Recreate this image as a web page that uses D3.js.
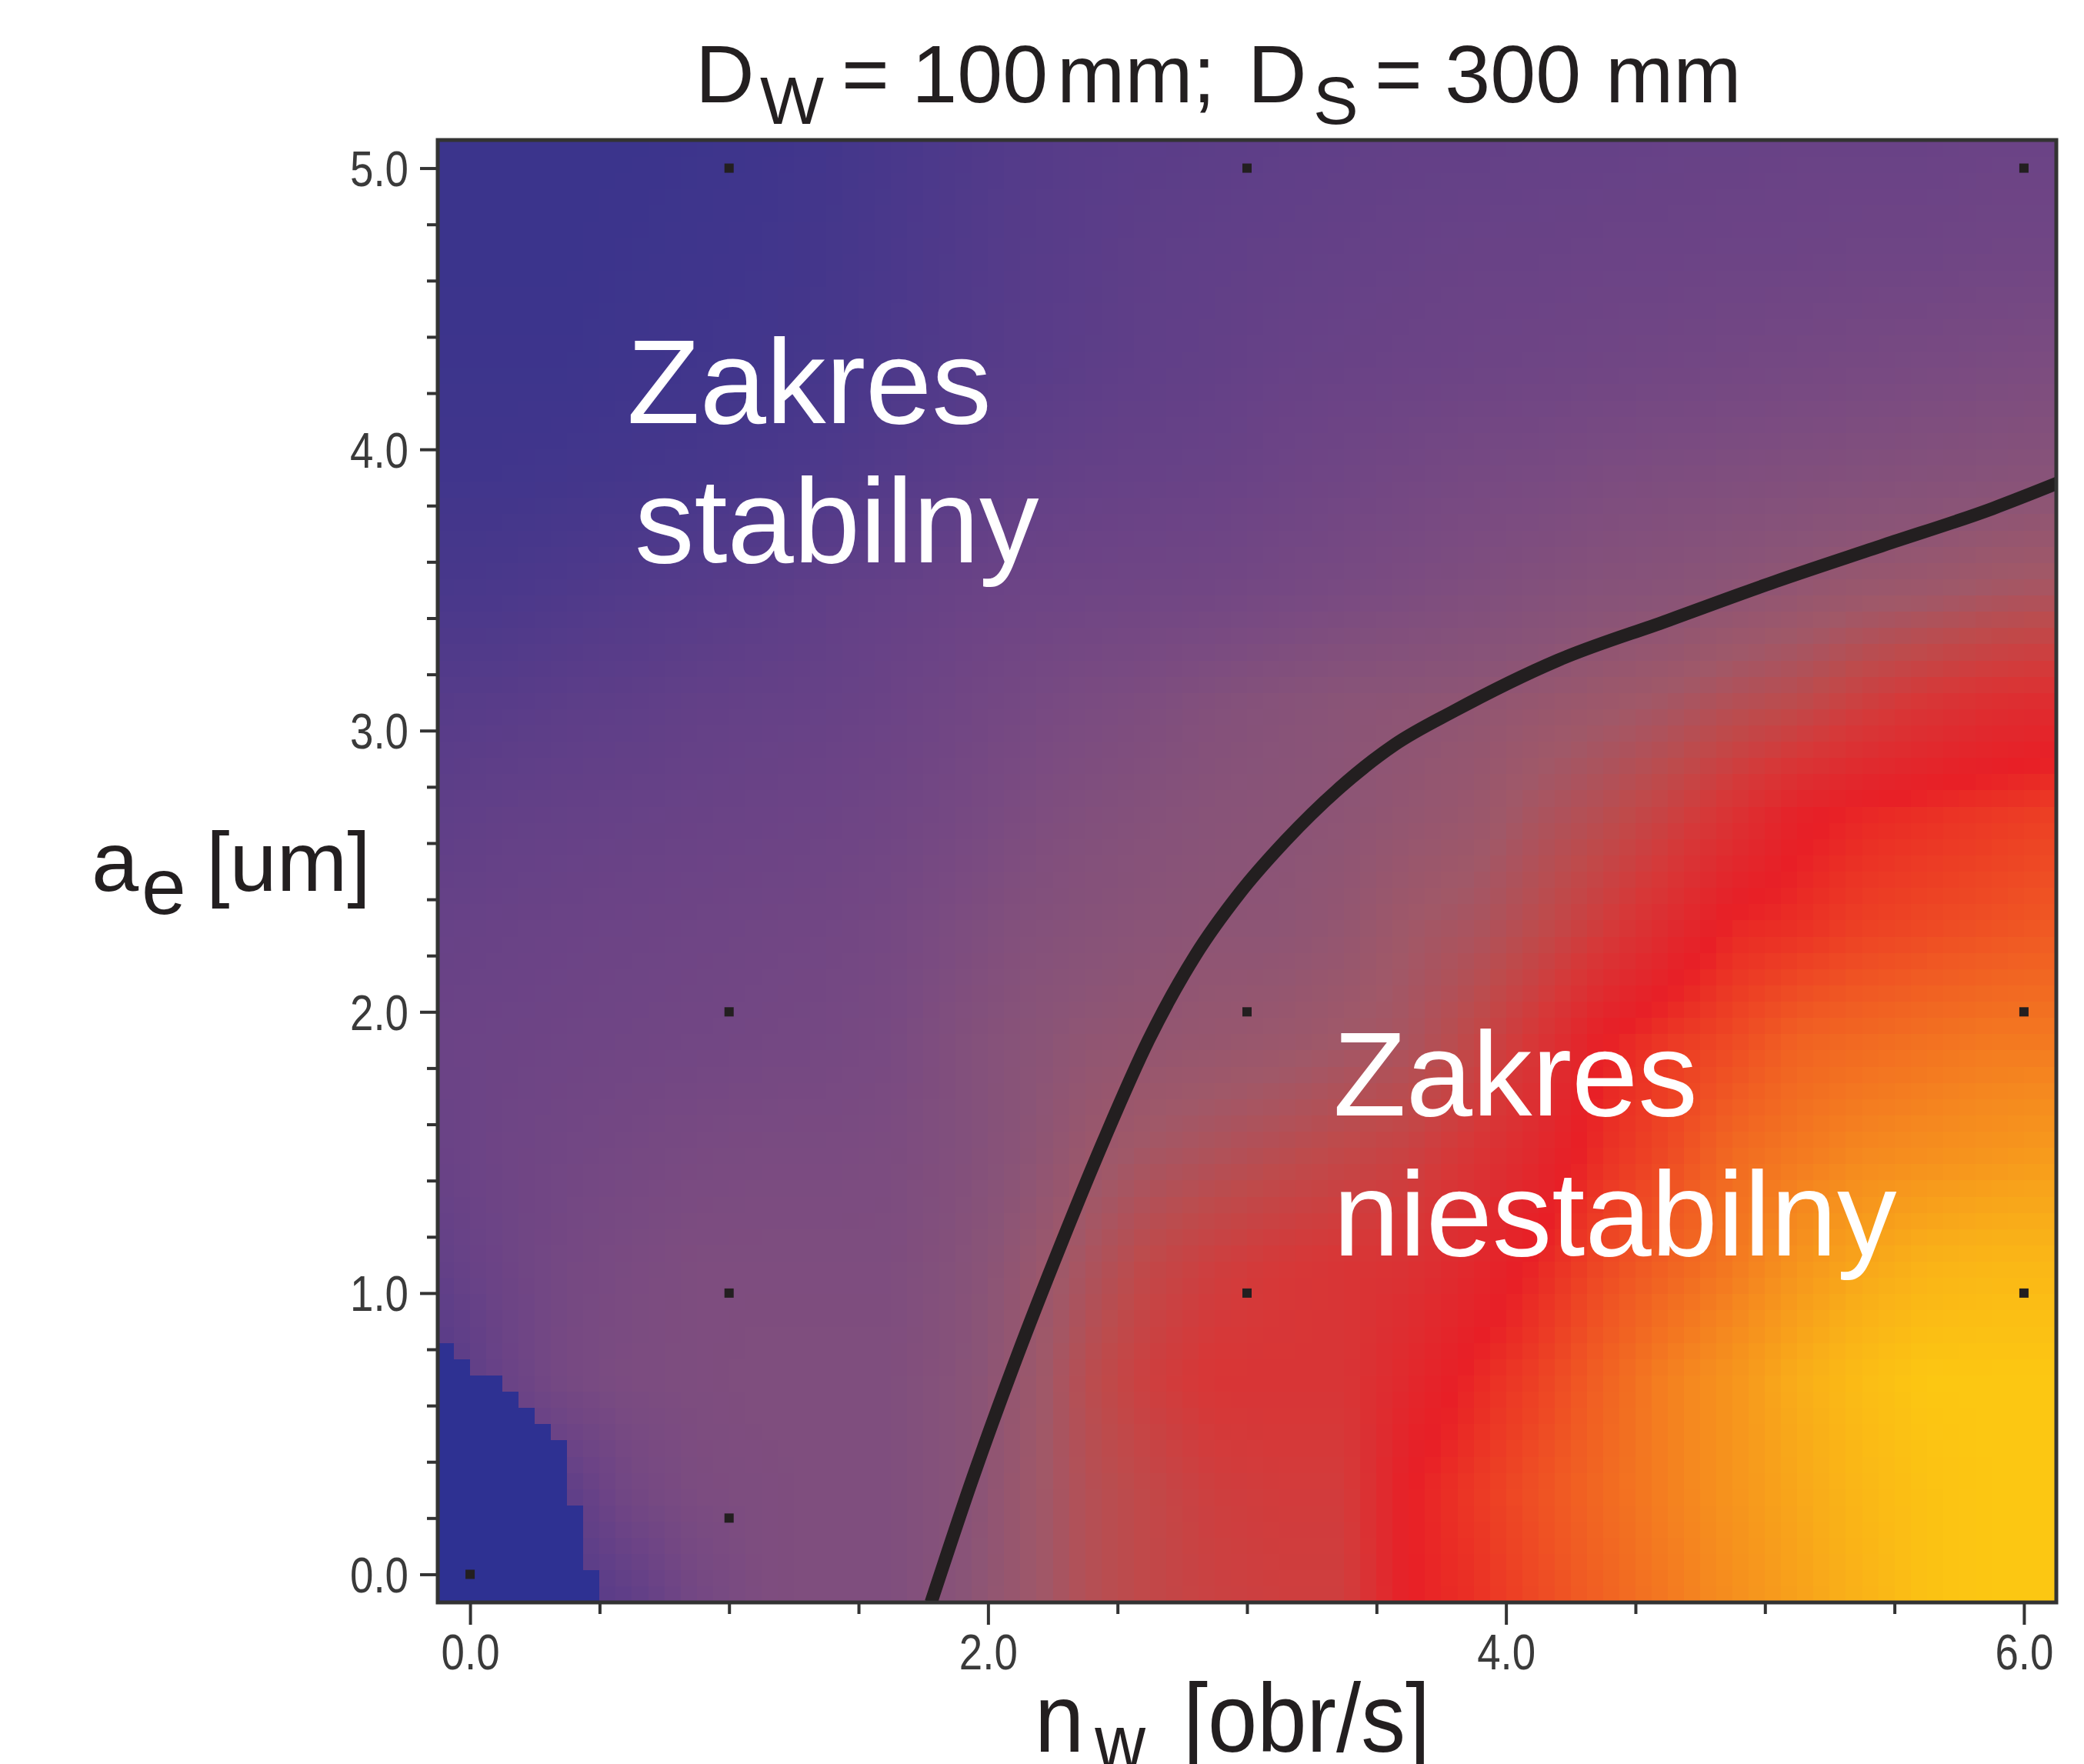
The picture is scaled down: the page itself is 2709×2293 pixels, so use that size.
<!DOCTYPE html>
<html>
<head>
<meta charset="utf-8">
<script src="https://cdnjs.cloudflare.com/ajax/libs/d3/7.8.5/d3.min.js"></script>
<style>
  body { margin: 0; background: #fff; }
  text { font-family: "Liberation Sans", Arial, sans-serif; }
</style>
</head>
<body>
<script>
// colour field, rows from top (a_e = 5.1) to bottom (a_e = -0.1)
var gridX = [-0.125, 0.125, 0.375, 0.625, 0.875, 1.125, 1.375, 1.625, 1.875, 2.125, 2.375, 2.625, 2.875,
             3.125, 3.375, 3.625, 3.875, 4.125, 4.375, 4.625, 4.875, 5.125, 5.375, 5.625, 5.875, 6.125];
var gridY = [5.1, 4.7, 4.3, 3.9, 3.5, 3.1, 2.7, 2.3, 1.9, 1.5, 1.1, 0.7, 0.3, -0.1];
var field = [
  [.07,.07,.07,.07,.08,.09,.11,.14,.17,.20,.22,.23,.24,.25,.26,.27,.27,.28,.28,.29,.29,.30,.30,.30,.31,.31],
  [.07,.07,.07,.08,.09,.10,.12,.15,.18,.21,.23,.25,.26,.27,.28,.29,.30,.30,.31,.31,.32,.32,.33,.33,.34,.34],
  [.08,.08,.08,.09,.10,.11,.13,.16,.19,.22,.24,.26,.27,.29,.30,.31,.32,.33,.34,.35,.36,.37,.38,.39,.40,.41],
  [.10,.10,.11,.12,.13,.15,.17,.20,.23,.26,.28,.29,.30,.32,.34,.36,.38,.39,.41,.42,.43,.44,.45,.46,.47,.48],
  [.14,.15,.17,.19,.21,.23,.26,.28,.30,.32,.33,.34,.35,.37,.39,.41,.43,.45,.47,.48,.50,.52,.54,.55,.57,.58],
  [.21,.22,.24,.25,.27,.28,.29,.31,.34,.37,.40,.42,.45,.47,.49,.50,.51,.53,.55,.57,.60,.62,.66,.69,.71,.72],
  [.25,.27,.28,.29,.30,.31,.32,.34,.37,.41,.44,.46,.48,.49,.50,.52,.54,.58,.61,.65,.70,.75,.77,.78,.79,.80],
  [.29,.30,.31,.32,.33,.34,.35,.37,.41,.45,.47,.49,.50,.50,.52,.56,.58,.62,.67,.72,.77,.78,.80,.81,.82,.83],
  [.31,.32,.33,.34,.35,.36,.37,.39,.44,.48,.51,.52,.53,.54,.56,.58,.63,.69,.76,.79,.81,.84,.85,.86,.87,.87],
  [.30,.33,.35,.37,.39,.40,.40,.41,.44,.49,.54,.57,.59,.61,.63,.65,.69,.73,.78,.81,.85,.87,.89,.90,.91,.92],
  [.27,.32,.37,.40,.42,.42,.42,.42,.46,.52,.58,.63,.66,.68,.69,.70,.73,.77,.81,.84,.87,.91,.94,.96,.97,.97],
  [.20,.30,.38,.41,.42,.43,.43,.43,.47,.53,.61,.66,.69,.69,.69,.73,.77,.80,.84,.88,.91,.95,.98,1,1,1],
  [.20,.20,.25,.36,.41,.42,.43,.43,.47,.54,.60,.63,.66,.67,.67,.76,.79,.82,.85,.88,.91,.94,.97,.99,1,1],
  [.20,.20,.20,.25,.36,.42,.43,.43,.48,.54,.60,.63,.65,.66,.66,.76,.78,.81,.84,.87,.90,.93,.96,.99,1,1]
];
// lowest-level (blue) zone in the lower-left corner: its upper edge
var blueEdgeX = [-0.125, 0.05, 0.275, 0.34, 0.40, 0.46, 0.50];
var blueEdgeY = [0.85, 0.72, 0.57, 0.47, 0.26, 0.04, -0.10];

var colorStops = [0, 0.07, 0.15, 0.22, 0.31, 0.40, 0.49, 0.56, 0.62, 0.68, 0.76, 0.83, 0.89, 0.95, 1.0];
var colorRange = ["#2e3192", "#3b348c", "#4a388b", "#583c89", "#6b4386", "#7a4b81", "#8a5477", "#a05868",
                  "#bd4b4c", "#d63838", "#e81f26", "#f05a23", "#f5881f", "#f9ad19", "#fcc712"];

// measurement points
var pointsX = [0, 1, 1, 1, 1, 3, 3, 3, 6, 6, 6];
var pointsY = [0, 0.2, 1, 2, 5, 1, 2, 5, 1, 2, 5];

// stability boundary
var curveX = [1.78, 1.94, 2.11, 2.28, 2.45, 2.62, 2.80, 2.97, 3.15, 3.35, 3.57, 3.80, 4.20, 4.62, 5.04, 5.46, 5.88, 6.13];
var curveY = [-0.10, 0.34, 0.77, 1.17, 1.55, 1.90, 2.20, 2.42, 2.61, 2.79, 2.95, 3.07, 3.25, 3.39, 3.53, 3.66, 3.79, 3.88];

var xTicks = [0, 2, 4, 6];
var yTicks = [0, 1, 2, 3, 4, 5];

var W = 2709, H = 2293;
var plotL = 569, plotR = 2673, plotT = 182, plotB = 2083;

var svg = d3.select("body").append("svg").attr("width", W).attr("height", H);
svg.append("rect").attr("width", W).attr("height", H).attr("fill", "#fff");

var x = d3.scaleLinear().domain([-0.125, 6.125]).range([plotL, plotR]);
var y = d3.scaleLinear().domain([-0.1, 5.1]).range([plotB, plotT]);
var color = d3.scaleLinear().domain(colorStops).range(colorRange).clamp(true);

// grid coordinate -> fractional index
var colIndex = d3.scaleLinear().domain(gridX).range(d3.range(gridX.length)).clamp(true);
var rowIndex = d3.scaleLinear().domain(gridY).range(d3.range(gridY.length)).clamp(true);
var blueEdge = d3.scaleLinear().domain(blueEdgeX).range(blueEdgeY);

function fieldAt(vx, vy) {
  if (vx <= blueEdgeX[blueEdgeX.length - 1] && vy < blueEdge(vx)) return 0;
  var fi = colIndex(vx), fj = rowIndex(vy);
  var i0 = Math.min(Math.floor(fi), gridX.length - 2);
  var j0 = Math.min(Math.floor(fj), gridY.length - 2);
  var tx = fi - i0, ty = fj - j0;
  var a = field[j0][i0], b = field[j0][i0 + 1];
  var c = field[j0 + 1][i0], d = field[j0 + 1][i0 + 1];
  return (a * (1 - tx) + b * tx) * (1 - ty) + (c * (1 - tx) + d * tx) * ty;
}

// raster cells like the original surface plot
var nCols = 100, nRows = 90;
var cellX = d3.scaleLinear().domain([0, nCols]).range(x.domain());
var cellY = d3.scaleLinear().domain([0, nRows]).range(y.domain());
var cells = [];
for (var r = 0; r < nRows; r++) {
  for (var c = 0; c < nCols; c++) cells.push({c: c, r: r});
}

svg.append("g").attr("shape-rendering", "crispEdges")
  .selectAll("rect").data(cells).enter().append("rect")
  .attr("x", function(d) { return x(cellX(d.c)); })
  .attr("y", function(d) { return y(cellY(d.r + 1)); })
  .attr("width", function(d) { return x(cellX(d.c + 1)) - x(cellX(d.c)) + 0.6; })
  .attr("height", function(d) { return y(cellY(d.r)) - y(cellY(d.r + 1)) + 0.6; })
  .attr("fill", function(d) { return color(fieldAt(cellX(d.c + 0.5), cellY(d.r + 0.5))); });

svg.append("clipPath").attr("id", "plotClip")
  .append("rect").attr("x", plotL).attr("y", plotT).attr("width", plotR - plotL).attr("height", plotB - plotT);

var line = d3.line()
  .x(function(d) { return x(d[0]); })
  .y(function(d) { return y(d[1]); })
  .curve(d3.curveMonotoneX);

svg.append("path")
  .datum(d3.zip(curveX, curveY))
  .attr("clip-path", "url(#plotClip)")
  .attr("d", line)
  .attr("fill", "none")
  .attr("stroke", "#231f20")
  .attr("stroke-width", 17);

svg.append("g").selectAll("rect").data(d3.zip(pointsX, pointsY)).enter().append("rect")
  .attr("x", function(d) { return x(d[0]) - 6; })
  .attr("y", function(d) { return y(d[1]) - 6; })
  .attr("width", 12).attr("height", 12)
  .attr("fill", "#231f20");

// zone labels
var zoneLabels = [
  {t: "Zakres", x: 815, y: 550}, {t: "stabilny", x: 825, y: 731},
  {t: "Zakres", x: 1733, y: 1450}, {t: "niestabilny", x: 1733, y: 1632}
];
svg.append("g").selectAll("text").data(zoneLabels).enter().append("text")
  .attr("x", function(d) { return d.x; })
  .attr("y", function(d) { return d.y; })
  .attr("font-size", 155)
  .attr("fill", "#fff")
  .text(function(d) { return d.t; });

// frame
svg.append("rect")
  .attr("x", plotL).attr("y", plotT).attr("width", plotR - plotL).attr("height", plotB - plotT)
  .attr("fill", "none").attr("stroke", "#333").attr("stroke-width", 5);

// axes
function styleAxis(g) {
  g.select(".domain").remove();
  g.selectAll(".tick line").attr("stroke", "#333").attr("stroke-width", 4);
}

var xMinor = d3.range(0, 6.01, 0.5).filter(function(v) { return xTicks.indexOf(v) < 0; });
var yMinor = d3.range(0, 25.5, 1).map(function(v) { return v / 5; }).filter(function(v) { return yTicks.indexOf(v) < 0; });

svg.append("g").attr("transform", "translate(0," + plotB + ")")
  .call(d3.axisBottom(x).tickValues(xMinor).tickSize(15).tickFormat(""))
  .call(styleAxis);

var gx = svg.append("g").attr("transform", "translate(0," + plotB + ")")
  .call(d3.axisBottom(x).tickValues(xTicks).tickSize(29).tickFormat(d3.format(".1f")))
  .call(styleAxis);
gx.selectAll(".tick text")
  .attr("y", 87).attr("dy", null)
  .attr("font-size", 64).attr("fill", "#3a3a3a")
  .attr("font-family", "'Liberation Sans', Arial, sans-serif")
  .attr("textLength", 76).attr("lengthAdjust", "spacingAndGlyphs");

svg.append("g").attr("transform", "translate(" + plotL + ",0)")
  .call(d3.axisLeft(y).tickValues(yMinor).tickSize(14).tickFormat(""))
  .call(styleAxis);

var gy = svg.append("g").attr("transform", "translate(" + plotL + ",0)")
  .call(d3.axisLeft(y).tickValues(yTicks).tickSize(23).tickFormat(d3.format(".1f")))
  .call(styleAxis);
gy.selectAll(".tick text")
  .attr("x", -38).attr("y", 23).attr("dy", null)
  .attr("font-size", 64).attr("fill", "#3a3a3a")
  .attr("font-family", "'Liberation Sans', Arial, sans-serif")
  .attr("textLength", 76).attr("lengthAdjust", "spacingAndGlyphs");

// title
var title = svg.append("g").attr("fill", "#231f20");
title.append("text").attr("x", 904).attr("y", 133).attr("font-size", 106).text("D");
title.append("text").attr("x", 988).attr("y", 161).attr("font-size", 88).text("W");
title.append("text").attr("x", 1094).attr("y", 133).attr("font-size", 106).text("= 100");
title.append("text").attr("x", 1374).attr("y", 133).attr("font-size", 106).text("mm;");
title.append("text").attr("x", 1622).attr("y", 133).attr("font-size", 106).text("D");
title.append("text").attr("x", 1707).attr("y", 161).attr("font-size", 88).text("S");
title.append("text").attr("x", 1787).attr("y", 133).attr("font-size", 106).text("= 300");
title.append("text").attr("x", 2087).attr("y", 133).attr("font-size", 106).text("mm");

// y label
var yl = svg.append("g").attr("fill", "#231f20");
yl.append("text").attr("x", 119).attr("y", 1158).attr("font-size", 110).text("a");
yl.append("text").attr("x", 184).attr("y", 1188).attr("font-size", 104).text("e");
yl.append("text").attr("x", 268).attr("y", 1158).attr("font-size", 110).text("[um]");

// x label (runs off the bottom edge, as in the original)
var xl = svg.append("g").attr("fill", "#231f20").attr("transform", "translate(1345,2277) scale(0.91,1)");
xl.append("text").attr("x", 0).attr("y", 0).attr("font-size", 127).text("n");
xl.append("text").attr("x", 86).attr("y", 22).attr("font-size", 100).text("w");
xl.append("text").attr("x", 212).attr("y", 0).attr("font-size", 127).text("[obr/s]");
</script>
</body>
</html>
